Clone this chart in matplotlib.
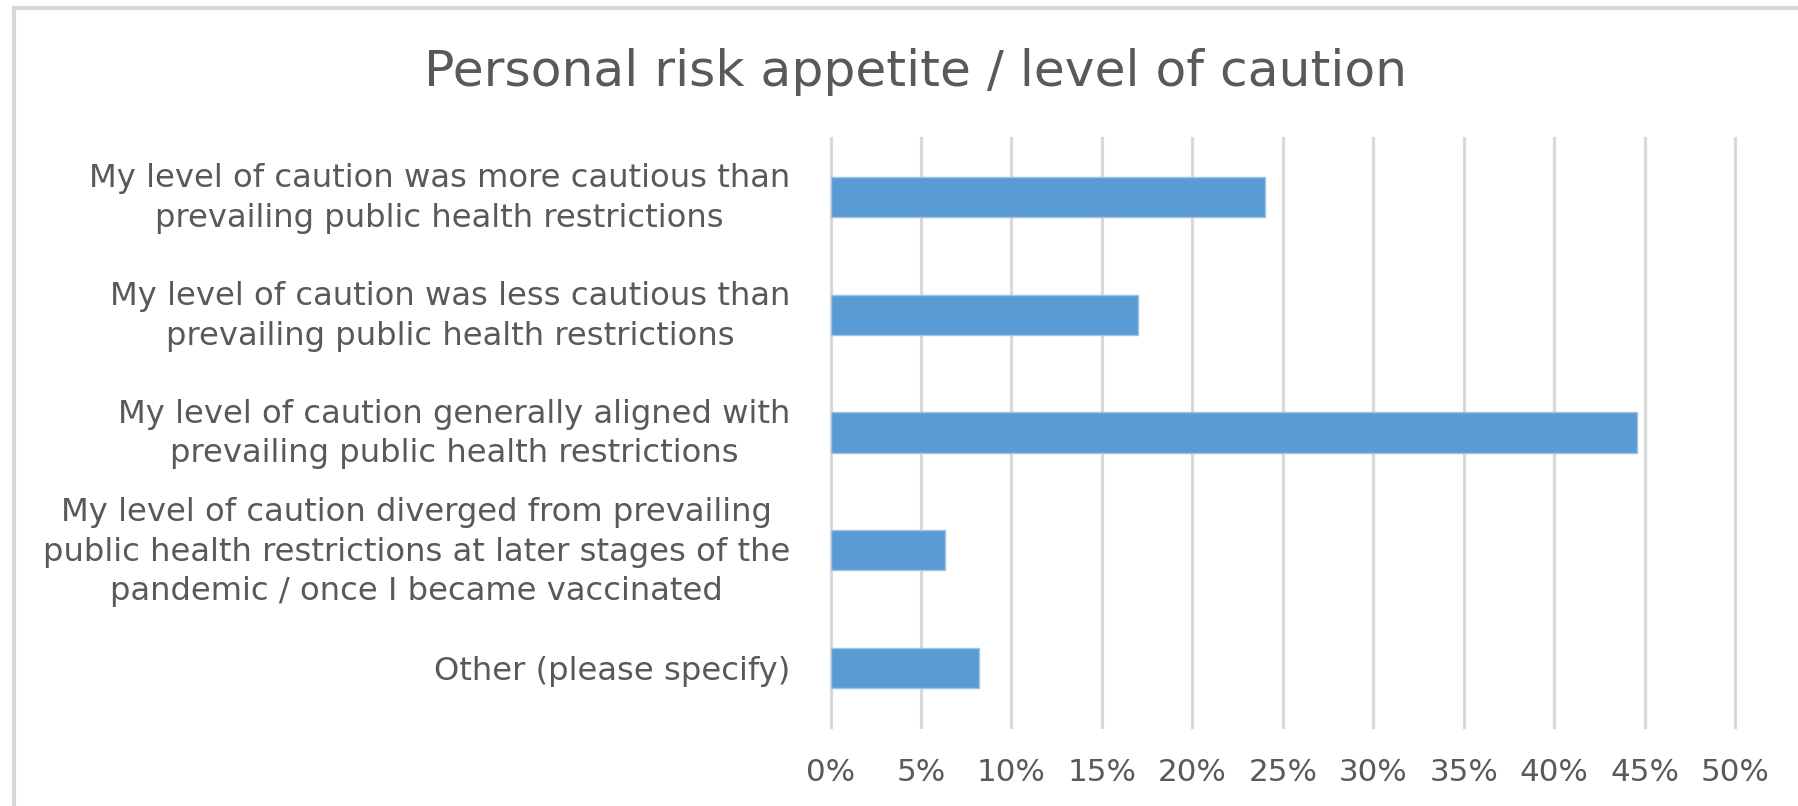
import matplotlib
matplotlib.use("Agg")
import matplotlib.pyplot as plt
from matplotlib.lines import Line2D
from matplotlib.transforms import ScaledTranslation

categories = [
    "My level of caution was more cautious than\nprevailing public health restrictions",
    "My level of caution was less cautious than\nprevailing public health restrictions",
    "My level of caution generally aligned with\nprevailing public health restrictions",
    "My level of caution diverged from prevailing\npublic health restrictions at later stages of the\npandemic / once I became vaccinated",
    "Other (please specify)",
]
values = [0.240, 0.170, 0.446, 0.063, 0.082]
xticks = [0, 0.05, 0.10, 0.15, 0.20, 0.25, 0.30, 0.35, 0.40, 0.45, 0.50]
xticklabels = ["0%", "5%", "10%", "15%", "20%", "25%", "30%", "35%", "40%", "45%", "50%"]
title = "Personal risk appetite / level of caution"

W, H = 1798, 806
fig = plt.figure(figsize=(W / 100, H / 100), dpi=100)
fig.patch.set_facecolor("white")

TXT = "#595959"
GRID = "#D9D9D9"
BAR = "#5B9BD5"

ax_l, ax_r, ax_t, ax_b = 830.6, 1735.0, 138.0, 727.0
ax = fig.add_axes([ax_l / W, 1 - ax_b / H, (ax_r - ax_l) / W, (ax_b - ax_t) / H])

ypos = list(range(len(categories)))
ax.barh(ypos, values, height=0.34, color=BAR, edgecolor="#9DC3E6", linewidth=1.0, zorder=3)
ax.set_xlim(0, 0.5)
ax.set_ylim(len(categories) - 0.5, -0.5)
ax.set_xticks(xticks)
ax.set_xticklabels(xticklabels)
ax.set_yticks(ypos)
ax.set_yticklabels(categories, multialignment="center", linespacing=1.35)
ax.xaxis.grid(True, color=GRID, linewidth=2.3, zorder=0)
ax.yaxis.grid(False)
for gl in ax.get_xgridlines():
    gl.set_clip_on(False)
for s in ax.spines.values():
    s.set_visible(False)
ax.tick_params(axis="x", length=0, pad=22.5, labelsize=22.3, labelcolor=TXT)
ax.tick_params(axis="y", length=0, pad=29, labelsize=23.2, labelcolor=TXT)

shift = ScaledTranslation(0, 6 / 100, fig.dpi_scale_trans)
for lbl in ax.get_yticklabels():
    if "\n" in lbl.get_text():
        lbl.set_transform(lbl.get_transform() + shift)

fig.text(916 / W, 1 - 71.5 / H, title, ha="center", va="center", fontsize=36.3, color=TXT)

# chart border (left and top)
fig.add_artist(Line2D([14 / W, 14 / W], [0, 1 - 7.5 / H], transform=fig.transFigure, color=GRID, linewidth=3))
fig.add_artist(Line2D([14 / W, 1], [1 - 7.5 / H, 1 - 7.5 / H], transform=fig.transFigure, color=GRID, linewidth=3))

fig.savefig("out.png", dpi=100, facecolor="white")
